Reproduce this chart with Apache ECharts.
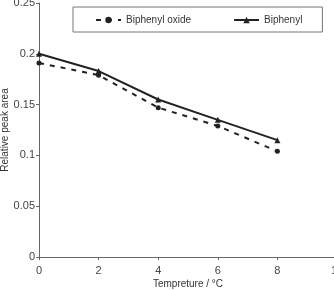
<!DOCTYPE html>
<html>
<head>
<meta charset="utf-8">
<script src="https://cdn.jsdelivr.net/npm/echarts@6/dist/echarts.min.js"></script>
<style>
  html, body { margin: 0; padding: 0; background: #fff; }
  #chart { width: 334px; height: 290px; }
</style>
</head>
<body>
<div id="chart"></div>
<script>
// temperature points and the two series (relative peak area)
var temps = [0, 2, 4, 6, 8];
var oxideData = [0.191, 0.179, 0.147, 0.129, 0.104];
var biphenylData = [0.2, 0.183, 0.155, 0.135, 0.115];
var seriesNames = ['Biphenyl oxide', 'Biphenyl'];

function pairs(ys) {
  return temps.map(function (t, i) { return [t, ys[i]]; });
}

var chart = echarts.init(document.getElementById('chart'));
chart.setOption({
  backgroundColor: '#fff',
  animation: false,
  textStyle: { fontFamily: 'Liberation Sans, Arial, sans-serif' },
  grid: { left: 39, top: 3, width: 298, height: 254, outerBoundsMode: 'none', containLabel: false },
  legend: {
    data: seriesNames,
    left: 73,
    top: 7,
    padding: [8, 20, 7, 22],
    itemGap: 42,
    itemWidth: 25,
    itemHeight: 8,
    borderColor: '#777',
    borderWidth: 1,
    textStyle: { fontSize: 10, color: '#333' }
  },
  xAxis: {
    type: 'value',
    min: 0,
    max: 10,
    interval: 2,
    name: 'Tempreture / °C',
    nameLocation: 'middle',
    nameGap: 22,
    nameMoveOverlap: false,
    nameTextStyle: { fontSize: 10, color: '#333' },
    axisLine: { lineStyle: { color: '#666' } },
    axisTick: { length: 3, lineStyle: { color: '#666' } },
    axisLabel: { fontSize: 11, color: '#444', margin: 8 },
    splitLine: { show: false }
  },
  yAxis: {
    type: 'value',
    min: 0,
    max: 0.25,
    interval: 0.05,
    name: 'Relative peak area',
    nameLocation: 'middle',
    nameGap: 29,
    nameMoveOverlap: false,
    nameTextStyle: { fontSize: 10, color: '#333' },
    axisLine: { show: true, lineStyle: { color: '#666' } },
    axisTick: { show: true, length: 3, lineStyle: { color: '#666' } },
    axisLabel: { fontSize: 11, color: '#444', margin: 4 },
    splitLine: { show: false }
  },
  series: [
    {
      name: seriesNames[0],
      type: 'line',
      data: pairs(oxideData),
      symbol: 'circle',
      symbolSize: 5,
      itemStyle: { color: '#222' },
      lineStyle: { color: '#222', width: 2, type: [5, 6] }
    },
    {
      name: seriesNames[1],
      type: 'line',
      data: pairs(biphenylData),
      symbol: 'triangle',
      symbolSize: 6,
      itemStyle: { color: '#222' },
      lineStyle: { color: '#222', width: 2 }
    }
  ]
});
</script>
</body>
</html>
